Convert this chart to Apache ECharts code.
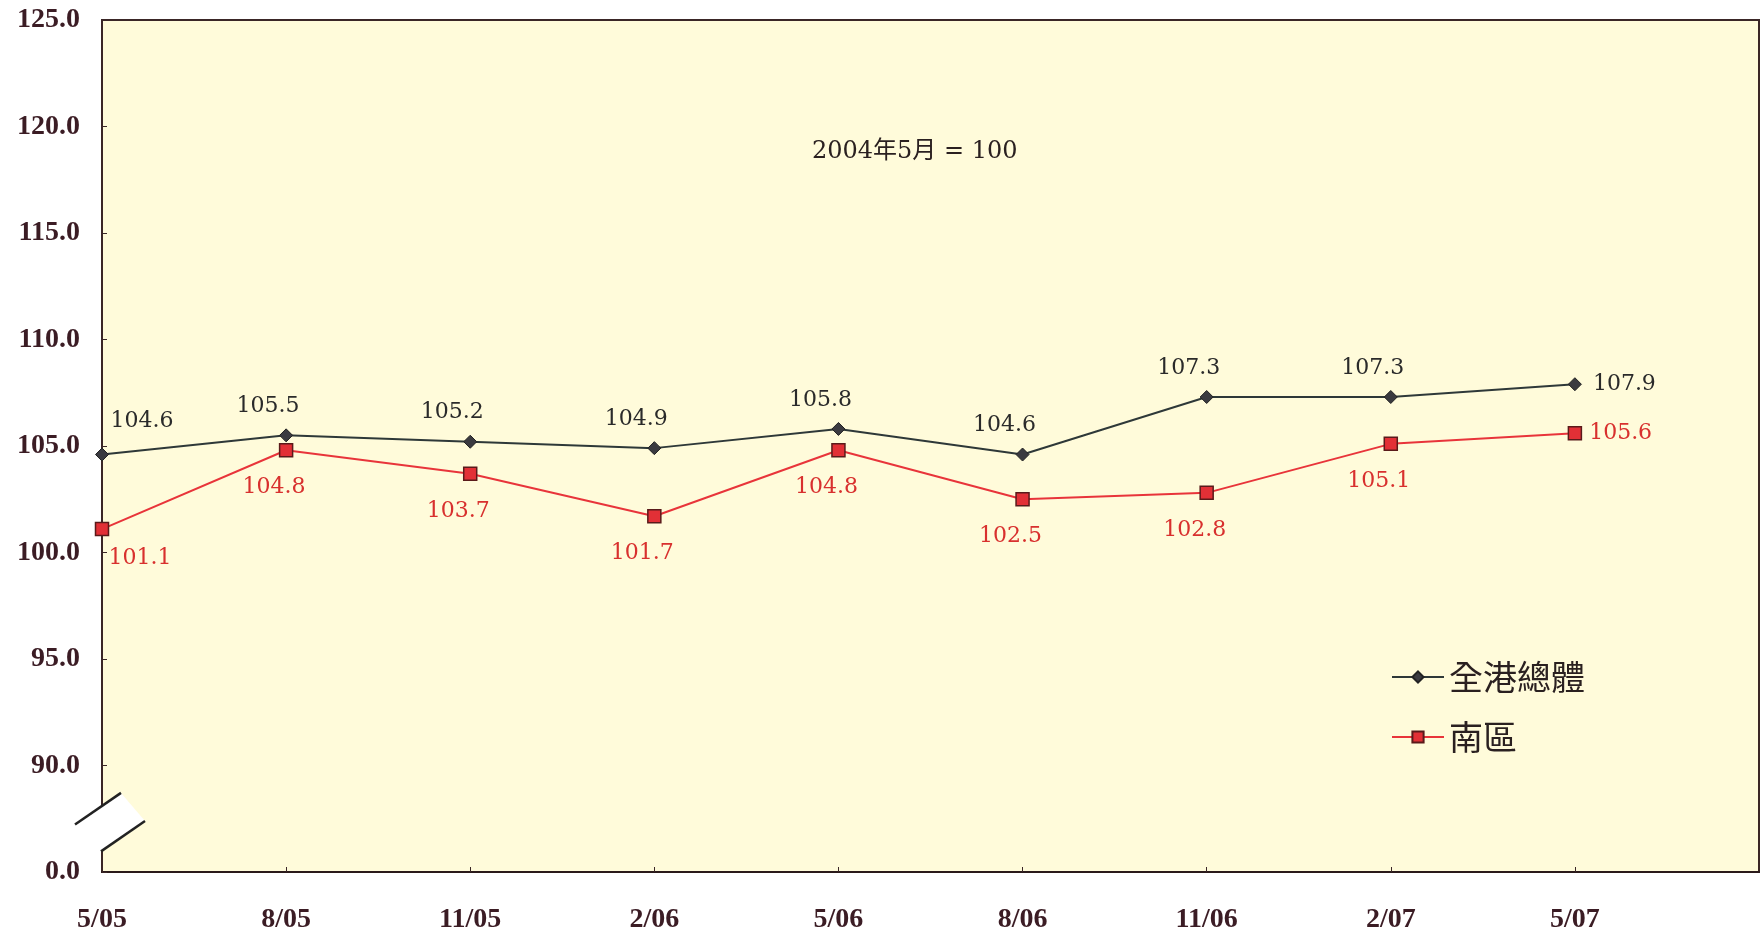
<!DOCTYPE html>
<html><head><meta charset="utf-8">
<script src="https://cdn.jsdelivr.net/npm/echarts@6/dist/echarts.min.js"></script>
<style>html,body{margin:0;padding:0;background:#fff}#c{width:1762px;height:935px}</style>
</head><body><div id="c"></div>
<script>
const categories = ['5/05','8/05','11/05','2/06','5/06','8/06','11/06','2/07','5/07'];
const seriesNames = ['全港總體','南區'];
const overall = [104.6,105.5,105.2,104.9,105.8,104.6,107.3,107.3,107.9];
const south = [101.1,104.8,103.7,101.7,104.8,102.5,102.8,105.1,105.6];
const yTicks = [85,90,95,100,105,110,115,120,125];
const yTickLabels = ['0.0','90.0','95.0','100.0','105.0','110.0','115.0','120.0','125.0'];
const note = '2004年5月 = 100';

const chart = echarts.init(document.getElementById('c'));
const last = categories.length - 1;

function mk(vals, which){
  return vals.map((v,i)=>{
    const item = {value:[i,v]};
    if (which===0){
      if (i===0) item.label={position:'top',offset:[40,-10]};
      else if (i===last) item.label={position:'right',offset:[6,0]};
    } else {
      if (i===0) item.label={position:'bottom',offset:[38,6]};
      else if (i===last) item.label={position:'right',offset:[2,0]};
    }
    return item;
  });
}

const noteGraphic = {type:'text',left:812,top:140,style:{text:note,fontFamily:'DejaVu Serif, Noto Sans CJK TC',fontSize:24,fill:'#2a2020'}};

chart.setOption({
  animation:false,
  backgroundColor:'#ffffff',
  grid:{left:102,top:20,right:3,bottom:63,show:true,backgroundColor:'#fffbda',borderColor:'#3a2626',borderWidth:2},
  xAxis:{type:'value',min:0,max:9,interval:1,
    axisLine:{show:true,lineStyle:{color:'#2a1a1a',width:2}},
    axisTick:{show:true,inside:true,length:5,lineStyle:{color:'#3a2626'}},
    splitLine:{show:false},
    axisLabel:{margin:34,color:'#3b1c24',fontFamily:'Liberation Serif',fontWeight:'bold',fontSize:28,
      formatter:v=>categories[v]!==undefined?categories[v]:'',showMaxLabel:false}
  },
  yAxis:{type:'value',min:85,max:125,interval:5,
    axisLine:{show:true,lineStyle:{color:'#3a2626',width:2}},
    axisTick:{show:true,inside:true,length:5,lineStyle:{color:'#3a2626'}},
    splitLine:{show:false},
    axisLabel:{margin:22,color:'#3b1c24',fontFamily:'Liberation Serif',fontWeight:'bold',fontSize:28,
      formatter:v=>{const k=yTicks.indexOf(v);return k>=0?yTickLabels[k]:'';}}
  },
  legend:{orient:'vertical',left:1386,top:653,itemWidth:52,itemHeight:14,itemGap:22,
    textStyle:{fontFamily:'Noto Sans CJK TC',fontSize:34,color:'#2a2020',lineHeight:38},
    data:seriesNames},
  graphic:[noteGraphic],
  series:[
    {name:seriesNames[0],type:'line',data:mk(overall,0),symbol:'diamond',symbolSize:13,
     lineStyle:{color:'#2e3838',width:2},itemStyle:{color:'#3a3a40',borderColor:'#222',borderWidth:1},
     label:{show:true,position:'top',offset:[-18,-6],fontFamily:'DejaVu Serif',fontSize:22,color:'#2a2a2a',
       formatter:p=>p.value[1].toFixed(1)}},
    {name:seriesNames[1],type:'line',data:mk(south,1),symbol:'rect',symbolSize:13,
     lineStyle:{color:'#e8343a',width:2},itemStyle:{color:'#e23036',borderColor:'#5a1a1a',borderWidth:1.5},
     label:{show:true,position:'bottom',offset:[-12,14],fontFamily:'DejaVu Serif',fontSize:22,color:'#d8302e',
       formatter:p=>p.value[1].toFixed(1)}}
  ]
});

// axis break decoration
const pA = chart.convertToPixel({gridIndex:0},[0,88.1]);
const pB = chart.convertToPixel({gridIndex:0},[0,86.0]);
const x0 = pA[0];
const slope = 31/45;
const s1a=[x0-27,pA[1]+27*slope], s1b=[x0+19,pA[1]-19*slope];
const s2a=[x0-1,pB[1]+1*slope], s2b=[x0+43,pB[1]-43*slope];
chart.setOption({graphic:[
  noteGraphic,
  {type:'polygon',z:50,shape:{points:[[x0-1,pA[1]+1*slope],[s1b[0],s1b[1]],[s2b[0],s2b[1]],[s2a[0],s2a[1]]]},style:{fill:'#ffffff'}},
  {type:'rect',z:50,shape:{x:x0-2,y:pA[1],width:4,height:pB[1]-pA[1]},style:{fill:'#ffffff'}},
  {type:'line',z:51,shape:{x1:s1a[0],y1:s1a[1],x2:s1b[0],y2:s1b[1]},style:{stroke:'#222',lineWidth:2.5}},
  {type:'line',z:51,shape:{x1:s2a[0],y1:s2a[1],x2:s2b[0],y2:s2b[1]},style:{stroke:'#222',lineWidth:2.5}}
]});
</script>
</body></html>
